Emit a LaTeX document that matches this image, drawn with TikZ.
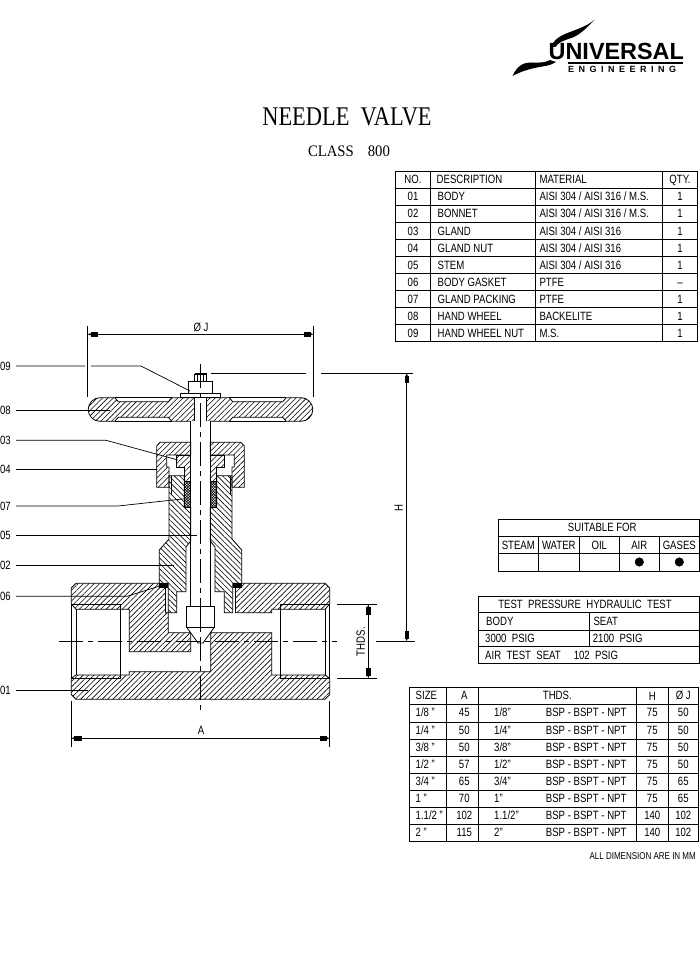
\documentclass[tikz,border=0pt]{standalone}
\usepackage{fontspec}
\usetikzlibrary{arrows.meta,patterns.meta}
\setmainfont[FakeStretch=0.8]{Liberation Sans}
\newfontfamily\titlefont[FakeStretch=0.83]{Liberation Serif}
\newfontfamily\classfont[FakeStretch=0.92]{Liberation Serif}
\newfontfamily\logofont[LetterSpace=50]{Liberation Sans Bold}
\newfontfamily\brandfont{Liberation Sans Bold}
\tikzset{
  part/.style={draw,line width=.8pt},
  hatchup/.style={part,pattern={Lines[angle=45,distance=3.8pt,line width=.6pt]}},
  hatchdown/.style={part,pattern={Lines[angle=-45,distance=3.8pt,line width=.6pt]}},
  packing/.style={part,pattern={Hatch[angle=45,distance=1.9pt,line width=.55pt]}},
  centerline/.style={line width=.7pt,dash pattern=on 24pt off 5pt on 5pt off 5pt},
  leader/.style={line width=.7pt},
  dimline/.style={line width=.7pt,<->,>={Rectangle[length=7pt,width=4pt]Triangle[length=3pt,width=2pt]}},
  extline/.style={line width=.7pt},
  gridline/.style={line width=.8pt},
  cell/.style={inner sep=0pt,text height=8.6pt,text depth=0pt,font=\fontsize{12}{12}\selectfont},
  cellleft/.style={cell,anchor=west},
  partlabel/.style={anchor=east,inner xsep=5pt,inner ysep=0pt,font=\fontsize{12}{12}\selectfont},
}
% one half of the upper works, drawn again mirrored
\newcommand{\halfworks}{
  \fill[white] (190.7,421.3) rectangle (200.5,606.3);
  \draw[part] (190.7,421.3) -- (190.7,606.3);
  \draw[hatchdown] (169,475.7) -- (184.3,475.7) -- (184.3,507.3) -- (190.7,507.3) -- (190.7,541) -- (186,547) -- (186,591.7)
    -- (176.7,591.7) -- (176.7,612.7) -- (168.3,612.7) -- (168.3,583.3) -- (159.3,583.3) -- (159.3,550) -- (169,539) -- cycle;
  \draw[line width=.7pt] (171,475.7) -- (171,495);
  \draw[packing] (184.3,481.7) rectangle (190.7,507.3);
  \draw[hatchup] (176.7,455) -- (190.7,455) -- (190.7,481.7) -- (184.3,481.7) -- (184.3,467) -- (176.7,467) -- cycle;
  \draw[hatchup] (160,442.3) -- (190.7,442.3) -- (190.7,455) -- (166.7,455) -- (166.7,467) -- (169,467) -- (169,487.3)
    -- (156.7,487.3) -- (156.7,446) -- cycle;
  \fill (159.3,583.3) rectangle (168.3,587.5);
}
\begin{document}
\begin{tikzpicture}[x=1pt,y=-1pt]
  \useasboundingbox (0,0) rectangle (700,968);
  % logo
  \fill (594.3,20) .. controls (585,30) and (578,36) .. (570,38.5) .. controls (562,41) and (558,43) .. (555.5,47)
    -- (551,47) .. controls (553,41) and (558,37) .. (566,33.5) .. controls (578,29) and (587,26) .. (594.3,20) -- cycle;
  \fill (512.5,76) .. controls (520,72) and (527,69.5) .. (537,67.5) .. controls (544,66) and (550,66) .. (556,62)
    -- (550,60) .. controls (546,62) and (542,63) .. (533,62.5) .. controls (523,62) and (517,66) .. (512.5,76) -- cycle;
  \node[anchor=base west,inner sep=0pt,font=\brandfont\fontsize{23.4}{23.4}\selectfont] (brand) at (548.5,59.5) {UNIVERSAL};
  \fill (568,62) rectangle (683,63.6);
  \node[anchor=base west,inner sep=0pt,font=\logofont\fontsize{9}{9}\selectfont] (eng) at (568,72.3) {ENGINEERING};
  % title
  \node[inner sep=0pt,font=\titlefont\fontsize{27}{27}\selectfont] (title) at (347,117) {NEEDLE\ \ VALVE};
  \node[inner sep=0pt,font=\classfont\fontsize{16}{16}\selectfont] (class) at (349,151.5) {CLASS\hspace{14pt}800};
  % parts table
  \draw[gridline] (395.7,171) rectangle (697,341.7);
  \foreach \r in {1,...,9} \draw[gridline] (395.7,{171+17.07*\r}) -- (697,{171+17.07*\r});
  \foreach \c in {430,535,662.3} \draw[gridline] (\c,171) -- (\c,341.7);
  \node[cell] (no0) at (413,179.5) {NO.};
  \node[cellleft] (desc0) at (436.5,179.5) {DESCRIPTION};
  \node[cellleft] (mat0) at (539.3,179.5) {MATERIAL};
  \node[cell] (qty0) at (680,179.5) {QTY.};
  \foreach \n/\d/\m/\q [count=\r] in {
    01/BODY/{AISI 304 / AISI 316 / M.S.}/1,
    02/BONNET/{AISI 304 / AISI 316 / M.S.}/1,
    03/GLAND/{AISI 304 / AISI 316}/1,
    04/GLAND NUT/{AISI 304 / AISI 316}/1,
    05/STEM/{AISI 304 / AISI 316}/1,
    06/BODY GASKET/PTFE/\textendash,
    07/GLAND PACKING/PTFE/1,
    08/HAND WHEEL/BACKELITE/1,
    09/HAND WHEEL NUT/M.S./1}
  {
    \node[cell] (no\r) at (413,{179.5+17.07*\r}) {\n};
    \node[cellleft] (desc\r) at (437.5,{179.5+17.07*\r}) {\d};
    \node[cellleft] (mat\r) at (539.3,{179.5+17.07*\r}) {\m};
    \node[cell] (qty\r) at (680,{179.5+17.07*\r}) {\q};
  }
  % suitable for table
  \draw[gridline] (498.3,519.3) rectangle (699.3,571.3);
  \draw[gridline] (498.3,536) -- (699.3,536);
  \draw[gridline] (498.3,553.3) -- (699.3,553.3);
  \foreach \c in {538.3,579.3,619.3,659.3} \draw[gridline] (\c,536) -- (\c,571.3);
  \node[cell] (suit) at (602.3,527.5) {SUITABLE FOR};
  \foreach \t/\c in {STEAM/518.3,WATER/558.8,OIL/599.3,AIR/639.3,GASES/679.3}
    \node[cell] (use\t) at (\c,545) {\t};
  \filldraw[black] (639.3,562) circle (4.3);
  \filldraw[black] (679.3,562) circle (4.3);
  % test pressure table
  \draw[gridline] (478.3,596) rectangle (699.3,663.3);
  \foreach \r in {612.7,630,646.7} \draw[gridline] (478.3,\r) -- (699.3,\r);
  \draw[gridline] (589.3,612.7) -- (589.3,646.7);
  \node[cell] (test) at (585,604.5) {TEST\ \ PRESSURE\ \ HYDRAULIC\ \ TEST};
  \node[cellleft] (tbody) at (486,621.5) {BODY};
  \node[cellleft] (tseat) at (593.3,621.5) {SEAT};
  \node[cellleft] (pbody) at (485,638.5) {3000\ \ PSIG};
  \node[cellleft] (pseat) at (592.7,638.5) {2100\ \ PSIG};
  \node[cellleft] (pair) at (485,655) {AIR\ \ TEST\ \ SEAT\hspace{13pt}102\ \ PSIG};
  % size table
  \draw[gridline] (409.3,687.7) rectangle (698.3,841.7);
  \foreach \r in {1,...,8} \draw[gridline] (409.3,{687.7+17.11*\r}) -- (698.3,{687.7+17.11*\r});
  \foreach \c in {446.7,478.3,636,668.3} \draw[gridline] (\c,687.7) -- (\c,841.7);
  \node[cellleft] (size0) at (415.5,695.5) {SIZE};
  \node[cell] (a0) at (464.3,695) {A};
  \node[cell] (thds0) at (557.3,695) {THDS.};
  \node[cell] (h0) at (652.3,696) {H};
  \node[cell] (j0) at (683.3,695) {Ø J};
  \foreach \s/\a/\t/\h/\j [count=\r] in {
    {1/8 "}/45/{1/8"}/75/50,
    {1/4 "}/50/{1/4"}/75/50,
    {3/8 "}/50/{3/8"}/75/50,
    {1/2 "}/57/{1/2"}/75/50,
    {3/4 "}/65/{3/4"}/75/65,
    {1 "}/70/{1"}/75/65,
    {1.1/2 "}/102/{1.1/2"}/140/102,
    {2 "}/115/{2"}/140/102}
  {
    \node[cellleft] (size\r) at (415.5,{695.5+17.11*\r}) {\s};
    \node[cell] (a\r) at (464.3,{695.5+17.11*\r}) {\a};
    \node[cellleft] (thds\r) at (494,{695.5+17.11*\r}) {\t};
    \node[cellleft] (conn\r) at (545.7,{695.5+17.11*\r}) {BSP - BSPT - NPT};
    \node[cell] (h\r) at (652.3,{695.5+17.11*\r}) {\h};
    \node[cell] (j\r) at (683.3,{695.5+17.11*\r}) {\j};
  }
  \node[anchor=east,inner sep=0pt,font=\fontsize{10}{10}\selectfont] (allmm) at (696,855.7) {ALL DIMENSION ARE IN MM};
  % body
  \draw[hatchup] (76,583.3) -- (159.3,583.3) -- (159.3,587.5) -- (165.5,587.5) -- (165.5,612.7) -- (168.3,612.7) -- (168.3,632.7)
    -- (190.7,632.7) -- (190.7,651.7) -- (129.3,651.7) -- (129.3,609.3) -- (76,609.3) -- (71.3,604) -- (71.3,588) -- cycle;
  \draw[hatchup] (241.7,583.3) -- (325,583.3) -- (329.7,588) -- (329.7,604) -- (325,609.3) -- (271.7,609.3) -- (271.7,612.7)
    -- (235.5,612.7) -- (235.5,587.5) -- (241.7,587.5) -- cycle;
  \draw[hatchup] (71.3,678.3) -- (76,675) -- (129.3,675) -- (129.3,671.7) -- (210.7,671.7) -- (210.7,632.7) -- (271.7,632.7)
    -- (271.7,675) -- (325,675) -- (329.7,678.3) -- (329.7,694.6) -- (325,699.3) -- (76,699.3) -- (71.3,694.6) -- cycle;
  \draw[part] (71.3,604) -- (120.7,604) -- (120.7,678.3) -- (71.3,678.3) -- cycle;
  \draw[part] (76,609.3) -- (76,675);
  \draw[part] (329.7,604) -- (280.3,604) -- (280.3,678.3) -- (329.7,678.3) -- cycle;
  \draw[part] (325,609.3) -- (325,675);
  % hand wheel
  \draw[hatchup] (100,397.7) -- (114.7,397.7) -- (118.3,401.7) -- (168.3,401.7) -- (171.7,397.7) -- (229.3,397.7) -- (232.7,401.7)
    -- (282.7,401.7) -- (286.3,397.7) -- (301,397.7) arc (-90:90:11.8) -- (286.3,421.3) -- (282.7,417.3) -- (232.7,417.3)
    -- (229.3,421.3) -- (171.7,421.3) -- (168.3,417.3) -- (118.3,417.3) -- (114.7,421.3) -- (100,421.3) arc (90:270:11.8) -- cycle;
  \draw[part] (114.7,397.7) -- (171.7,397.7) (229.3,397.7) -- (286.3,397.7);
  \draw[part] (114.7,421.3) -- (171.7,421.3) (229.3,421.3) -- (286.3,421.3);
  \filldraw[part,fill=white] (194.3,397.7) rectangle (206.7,421.3);
  % nut and washer
  \filldraw[part,fill=white] (180.3,393.3) rectangle (220.7,397.7);
  \filldraw[part,fill=white] (188.3,381.3) rectangle (212.7,393.3);
  \filldraw[part,fill=white] (194.7,374) rectangle (206.3,381.3);
  \draw[part] (197.5,374) -- (197.5,381.3) (203.5,374) -- (203.5,381.3);
  \draw[line width=1.2pt] (194.7,374) -- (206.3,374) -- (206.3,381.3);
  % upper works
  \halfworks
  \begin{scope}[xshift=401pt,xscale=-1]
    \halfworks
  \end{scope}
  % stem tip
  \filldraw[part,fill=white] (186.5,627) -- (198,643) -- (203,643) -- (214.5,627) -- cycle;
  \filldraw[part,fill=white] (186.5,606.3) rectangle (214.5,627);
  \draw[part] (200.5,606.3) -- (200.5,627);
  % center lines
  \draw[centerline] (200.5,364) -- (200.5,711.7);
  \draw[centerline] (59,641.3) -- (337,641.3);
  % dimensions
  \coordinate (jl) at (87.5,334.3);
  \coordinate (jr) at (313.5,334.3);
  \draw[extline] (87.5,326) -- (87.5,397);
  \draw[extline] (313.5,326) -- (313.5,397);
  \draw[dimline] (jl) -- (jr);
  \node[cell] (dimj) at (201,327) {Ø J};
  \coordinate (al) at (71.3,738.3);
  \coordinate (ar) at (329.7,738.3);
  \draw[extline] (71.3,701) -- (71.3,746.7);
  \draw[extline] (329.7,701) -- (329.7,746.7);
  \draw[dimline] (al) -- (ar);
  \node[cell] (dima) at (201,730) {A};
  \coordinate (tt) at (368.3,604.3);
  \coordinate (tb) at (368.3,678.3);
  \draw[extline] (337,604.3) -- (376.7,604.3);
  \draw[extline] (337,678.3) -- (376.7,678.3);
  \draw[dimline] (tt) -- (tb);
  \node[cell,rotate=90] (dimt) at (360.5,641.7) {THDS.};
  \coordinate (ht) at (406.7,373);
  \coordinate (hb) at (406.7,641.3);
  \draw[extline] (211,373) -- (306,373);
  \draw[extline] (321,373) -- (413,373);
  \draw[extline] (376,641.3) -- (415,641.3);
  \draw[dimline] (ht) -- (hb);
  \node[cell,rotate=90] (dimh) at (398.5,508) {H};
  % leaders
  \node[partlabel] (lab09) at (16,366) {09};
  \node[partlabel] (lab08) at (16,410) {08};
  \node[partlabel] (lab03) at (16,440.3) {03};
  \node[partlabel] (lab04) at (16,469.3) {04};
  \node[partlabel] (lab07) at (16,506) {07};
  \node[partlabel] (lab05) at (16,535) {05};
  \node[partlabel] (lab02) at (16,565.3) {02};
  \node[partlabel] (lab06) at (16,596.3) {06};
  \node[partlabel] (lab01) at (16,690.3) {01};
  \draw[leader] (lab09.east) -- (85,366) (91,366) -- (141,366) -- (190,391);
  \draw[leader] (lab08.east) -- (110,410);
  \draw[leader] (lab03.east) -- (106,440.3) -- (178,460);
  \draw[leader] (lab04.east) -- (157,469.3);
  \draw[leader] (lab07.east) -- (118,506) -- (185,498.7);
  \draw[leader] (lab05.east) -- (197,535);
  \draw[leader] (lab02.east) -- (174,565.3);
  \draw[leader] (lab06.east) -- (127,596.3) -- (163,585);
  \draw[leader] (lab01.east) -- (88,690.3);
\end{tikzpicture}
\end{document}
